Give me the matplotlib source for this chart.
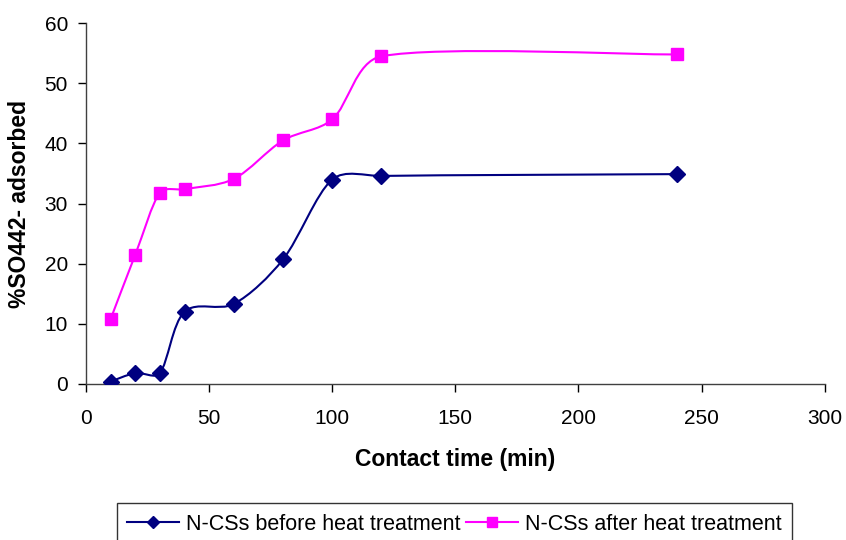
import matplotlib.pyplot as plt
import numpy as np
from matplotlib.path import Path
from matplotlib.patches import PathPatch
from matplotlib.lines import Line2D

plt.rcParams['font.family'] = ['Liberation Sans', 'DejaVu Sans']

# data
time_min = [10, 20, 30, 40, 60, 80, 100, 120, 240]
before_heat = [0.4, 1.8, 1.8, 12.0, 13.3, 20.7, 34.0, 34.6, 34.9]
after_heat = [10.8, 21.5, 31.8, 32.4, 34.1, 40.5, 44.0, 54.5, 54.8]

x_ticks = [0, 50, 100, 150, 200, 250, 300]
y_ticks = [0, 10, 20, 30, 40, 50, 60]


def smooth_path(ax, x, y):
    # Excel-like smoothed line: bezier through the points, worked out in
    # screen space with the control arms capped at a third of the segment
    p = ax.transData.transform(np.column_stack([x, y]))
    pts = np.vstack([p[0], p, p[-1]])
    verts = [p[0]]
    codes = [Path.MOVETO]
    for i in range(1, len(pts) - 2):
        a, b = pts[i], pts[i + 1]
        chord = np.hypot(*(b - a)) / 3
        t1 = (pts[i + 1] - pts[i - 1]) / 6
        t2 = (pts[i + 2] - pts[i]) / 6
        for t in (t1, t2):
            n = np.hypot(*t)
            if n > chord:
                t *= chord / n
        verts += [a + t1, b - t2, b]
        codes += [Path.CURVE4] * 3
    verts = ax.transData.inverted().transform(np.array(verts))
    return Path(verts, codes)


fig = plt.figure(figsize=(8.46, 5.4), dpi=100)
ax = fig.add_axes([0.1017, 0.289, 0.873, 0.668])
ax.set_xlim(0, 300)
ax.set_ylim(0, 60)

series = [
    (before_heat, '#000080', 'D', 8, 'N-CSs before heat treatment'),
    (after_heat, '#FF00FF', 's', 8.5, 'N-CSs after heat treatment'),
]
handles = []
for vals, col, mk, ms, lab in series:
    ax.add_patch(PathPatch(smooth_path(ax, time_min, vals), facecolor='none',
                           edgecolor=col, lw=1.5, zorder=2))
    ax.plot(time_min, vals, linestyle='none', marker=mk, markersize=ms,
            color=col, zorder=3)
    handles.append(Line2D([], [], color=col, lw=1.5, marker=mk,
                          markersize=ms - 1.5, label=lab))

ax.set_xticks(x_ticks)
ax.set_yticks(y_ticks)
ax.tick_params(axis='both', labelsize=15, direction='out', length=6,
               width=1, colors='black')
ax.tick_params(axis='x', pad=12)
ax.tick_params(axis='y', pad=7)
for s in ['top', 'right']:
    ax.spines[s].set_visible(False)
for s in ['left', 'bottom']:
    ax.spines[s].set_linewidth(1)
    ax.spines[s].set_color('#404040')

ax.set_xlabel('Contact time (min)', fontsize=16.5, fontweight='bold')
ax.set_ylabel('%SO442- adsorbed', fontsize=16.5, fontweight='bold')
ax.xaxis.set_label_coords(0.5, -0.177)
ax.yaxis.set_label_coords(-0.0744, 0.5)

leg = fig.legend(handles=handles, loc='upper center', ncol=2,
                 bbox_to_anchor=(0.537, 0.0685), fontsize=15.5, frameon=True,
                 fancybox=False, edgecolor='black', handlelength=2.4,
                 handletextpad=0.3, columnspacing=0.3, borderpad=0.5,
                 borderaxespad=0)
leg.get_frame().set_linewidth(1)

fig.savefig('out.png', dpi=100)
